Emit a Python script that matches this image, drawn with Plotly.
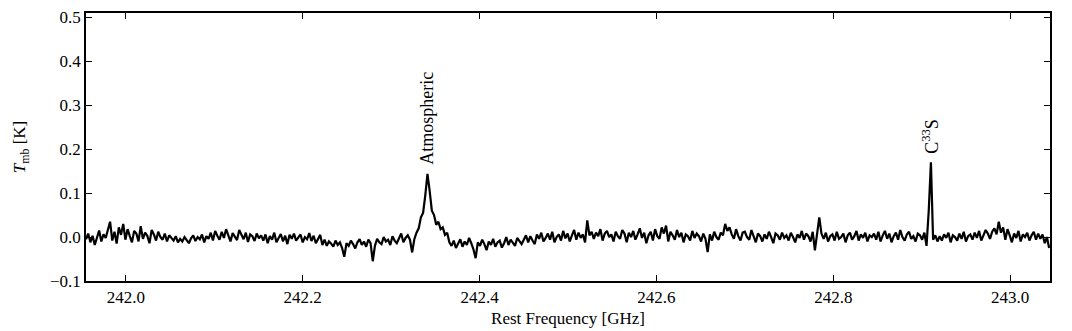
"""Spectrum near 242.4 GHz: main-beam temperature against rest frequency."""

import plotly.graph_objects as go

# channel grid (GHz)
FREQ_START = 241.955
CHANNEL_WIDTH = 0.002475

# main-beam temperature per channel, in mK, split by frequency region
tmb_241_95 = [-5, 8, -12, 3, -18, -4, 15, -10, 6, -2, 20, 35, -8, 12, -15, 22, 5, 30, -6, 18,
              2, -12, 14, 8, -10, 25, -4, 10, 3, -14, 16, 6, -8, 12, 0, -6, 8, -10, 4, -2]
tmb_242_05 = [-8, 2, -12, -4, -10, 0, -6, -14, -3, 4, -9, 0, -5, 6, -12, 2, -4, 10, -8, 14,
              3, -6, 12, -2, 18, 5, -10, 9, 1, -7, 16, 4, -5, 10, -11, 6, 2, -9, 8, -3]
tmb_242_15 = [4, -8, 6, -14, 2, -6, 10, -12, -2, 7, -10, 3, -16, 5, -4, 8, -8, -1, 6, -12,
              0, -5, 9, -9, 3, -14, -3, 5, -18, -6, -20, -10, -15, -22, -8, -18, -12, -25, -45, -14]
tmb_242_25 = [-20, -8, -16, -26, -12, -5, -18, -10, -22, -6, -14, -55, -20, -4, -12, -16, 0, -10, -6, -18,
              2, -8, -14, -4, 8, -12, -2, 4, -6, -35]
tmb_atmos = [-5, 10, 20, 45, 55, 95, 144, 105, 60, 50, 28, 35, 18, 22, 5, 10]
tmb_242_37 = [-12, -20, -8, -25, -15, -5, -22, -10, -18, -2, -14, -28, -48, -12, -20, -6, -16, -30, -10, -18,
              -4, -22, -12, -8, -24, -14, 0, -18, -6, -12, -20, -2, -10, -16]
tmb_242_45 = [-6, 4, -12, 2, -8, -16, 6, -4, 10, -10, -2, 8, -6, 12, -12, 0, 6, -8, 14, -3,
              8, -10, 4, 16, -6, 10, -2, 6, -12, 38, 4, 12, -4, 10, 2, 18, -8, 8, 14, 0]
tmb_242_55 = [6, -10, 12, 2, -4, 16, 8, -12, 10, 0, 14, -6, 6, 20, -2, 10, -14, 4, 12, -8,
              18, 2, -4, 22, 8, 26, -10, 12, 4, -6, 16, 0, 10, -12, 6, 2, -8, 14, -2, 8]
tmb_242_65 = [2, -10, 8, -4, -34, 6, -8, 12, 0, -6, 10, 4, 30, 14, 22, 6, -4, 18, 2, -8,
              10, 12, 0, -6, 16, 4, -12, 8, 2, -10, 6, -4, 12, 0, -14, 8, 4, -6, 10, -2]
tmb_242_75 = [4, -8, 10, 0, -12, 6, -2, 14, -6, 8, 2, -10, 12, -30, 6, 45, 8, -4, 10, -10,
              2, 6, -8, 12, -4, 0, 8, -12, 4, 10, -6, 2, 14, -8, 6, -2, 10, -10, 4, 0]
tmb_242_85 = [8, -6, 12, -10, 4, 14, -4, 8, -12, 2, 10, -6, 16, 0, -8, 6, 12, -4, 2, -10,
              8, 4, -6, 10, -20]
tmb_c33s = [60, 170]
tmb_242_92 = [-6, 4, -10, 2, -8, 6, -2, 10, -12, 4, 0, -8, 8, -4, 12, -10, 2, 6, -6, 10,
              -2, 14, -8, 4, 16, 8, -4, 12, 20, 6, 35, 10, 22, -6, 18, 4, -12, 8, -2, 14,
              -10, 6, 0, 10, -8, 4, 12, -6, 8, -4, 6, -14, 0, -25]

# line labels: (text, frequency GHz, label base in K)
LINE_LABELS = [
    ("Atmospheric", 242.341, 0.16),
    ("C<sup>33</sup>S", 242.9105, 0.184),
]

X_TICKS = [242.0, 242.2, 242.4, 242.6, 242.8, 243.0]
Y_TICKS = [-0.1, 0.0, 0.1, 0.2, 0.3, 0.4, 0.5]

FONT = "Liberation Serif"
FONT_SIZE = 17

segments = [tmb_241_95, tmb_242_05, tmb_242_15, tmb_242_25, tmb_atmos, tmb_242_37,
            tmb_242_45, tmb_242_55, tmb_242_65, tmb_242_75, tmb_242_85, tmb_c33s, tmb_242_92]
tmb = [v / 1000 for seg in segments for v in seg]

fig = go.Figure()
fig.add_trace(
    go.Scatter(
        x0=FREQ_START,
        dx=CHANNEL_WIDTH,
        y=tmb,
        mode="lines",
        line={"color": "black", "width": 2.2, "shape": "linear"},
        showlegend=False,
    )
)

for text, freq, base in LINE_LABELS:
    fig.add_annotation(
        x=freq,
        y=base,
        text=text,
        textangle=-90,
        showarrow=False,
        xanchor="center",
        yanchor="bottom",
        font={"family": FONT, "size": 18, "color": "black"},
    )

axis_style = {
    "showline": True,
    "linecolor": "black",
    "linewidth": 1.5,
    "mirror": "ticks",
    "ticks": "inside",
    "ticklen": 6,
    "tickwidth": 1,
    "tickcolor": "black",
    "showgrid": False,
    "zeroline": False,
    "automargin": False,
    "tickfont": {"family": FONT, "size": FONT_SIZE, "color": "black"},
}

fig.update_xaxes(
    range=[241.955, 243.045],
    tickvals=X_TICKS,
    ticktext=[f"{v:.1f}" for v in X_TICKS],
    title={"text": "Rest Frequency [GHz]", "font": {"family": FONT, "size": FONT_SIZE, "color": "black"},
           "standoff": 6},
    **axis_style,
)
fig.update_yaxes(
    range=[-0.1, 0.51],
    tickvals=Y_TICKS,
    ticktext=["\u22120.1"] + [f"{v:.1f}" for v in Y_TICKS[1:]],
    title={"text": "<i>T</i><sub>mb</sub> [K]", "font": {"family": FONT, "size": FONT_SIZE, "color": "black"},
           "standoff": 20},
    **axis_style,
)

fig.update_layout(
    width=1072,
    height=331,
    margin={"l": 86, "r": 22, "t": 13, "b": 50},
    plot_bgcolor="white",
    paper_bgcolor="white",
)

# the page body has a default 8px margin; drop it so the figure fills the window
fig.write_html(
    "out.html",
    config={"displayModeBar": False},
    post_script="document.body.style.margin = '0';",
)
